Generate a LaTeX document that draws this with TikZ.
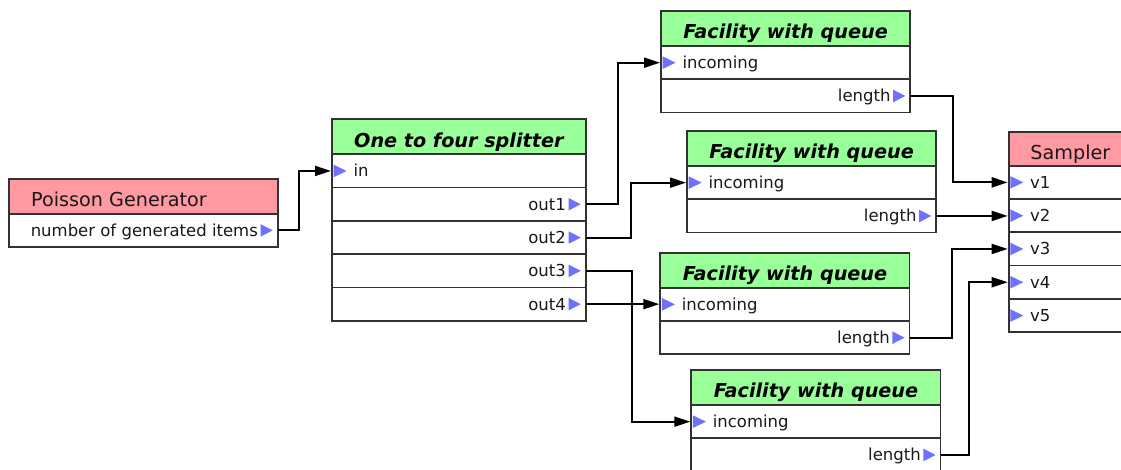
\documentclass[tikz,border=0pt]{standalone}
\usepackage{fontspec}
\setmainfont{DejaVu Sans}
\usetikzlibrary{arrows.meta}

\definecolor{edge}{RGB}{50,50,50}
\definecolor{pinkfill}{RGB}{255,153,162}
\definecolor{greenfill}{RGB}{153,255,153}
\definecolor{portblue}{RGB}{112,112,255}
\definecolor{ink}{RGB}{25,25,25}

\tikzset{
  pane/.style={draw=edge, line width=1.7pt, anchor=north west,
    inner sep=0pt, outer sep=0pt, minimum height=33.3pt},
  cell/.style={pane, fill=white},
  redhead/.style={pane, fill=pinkfill, minimum height=35pt},
  greenhead/.style={pane, fill=greenfill, minimum height=35pt},
  plaintitle/.style={font=\fontsize{19.2}{22}\selectfont, text=ink, inner sep=0pt, anchor=base west},
  boldtitle/.style={font=\fontsize{19.2}{22}\selectfont\bfseries\itshape, text=black, inner sep=0pt, anchor=base},
  porttext/.style={font=\fontsize{16.5}{19}\selectfont, text=ink, inner sep=0pt},
  conn/.style={line width=2pt, black, shorten >=1pt, -{Triangle[length=16pt,width=10pt]}},
}

% input row: port marker on the left edge, label after it
\newcommand\inrow[5]{%
  \node[cell, minimum width=#4pt] (#1) at (#2,#3) {};
  \fill[portblue] ([shift={(1.6,-6.3)}]#1.west) -- ([shift={(1.6,6.3)}]#1.west)
    -- ([shift={(14.6,0)}]#1.west) -- cycle;
  \node[porttext, anchor=base west] (#1-label) at ([shift={(21.3,22.6)}]#1.north west) {#5};
}
% output row: label and port marker against the right edge
\newcommand\outrow[5]{%
  \node[cell, minimum width=#4pt] (#1) at (#2,#3) {};
  \fill[portblue] ([shift={(-17.2,-6.3)}]#1.east) -- ([shift={(-17.2,6.3)}]#1.east)
    -- ([shift={(-5,0)}]#1.east) -- cycle;
  \node[porttext, anchor=base east] (#1-label) at ([shift={(-19.6,22.6)}]#1.north east) {#5};
}
% facility block: green header, one input, one output
\newcommand\facility[3]{%
  \node[greenhead, minimum width=249.3pt] (#1-h) at (#2,#3) {};
  \node[boldtitle] (#1-title) at ([yshift=-27.8pt]#1-h.north) {Facility with queue};
  \inrow{#1-1}{#2}{#3+35}{249.3}{incoming}
  \outrow{#1-2}{#2}{#3+68.3}{249.3}{length}
}

\begin{document}
\begin{tikzpicture}[x=1pt, y=-1pt]
  \useasboundingbox (0,0) rectangle (1121,469);
  \clip (0,0) rectangle (1121,469);
  \fill[white] (0,0) rectangle (1121,469);

  % source
  \node[redhead, minimum width=268.7pt, minimum height=34.7pt] (pg-h) at (9,179) {};
  \node[plaintitle] (pg-title) at ([shift={(22,27.2)}]pg-h.north west) {Poisson Generator};
  \outrow{pg-1}{9}{213.7}{268.7}{number of generated items}

  % splitter
  \node[greenhead, minimum width=253.7pt] (sp-h) at (332,119.3) {};
  \node[boldtitle] (sp-title) at ([yshift=-28pt]sp-h.north) {One to four splitter};
  \inrow{sp-1}{332}{154.3}{253.7}{in}
  \outrow{sp-2}{332}{187.6}{253.7}{out1}
  \outrow{sp-3}{332}{220.9}{253.7}{out2}
  \outrow{sp-4}{332}{254.2}{253.7}{out3}
  \outrow{sp-5}{332}{287.5}{253.7}{out4}

  % four facilities
  \facility{fa}{661}{11}
  \facility{fb}{687}{131}
  \facility{fc}{660.3}{252.7}
  \facility{fd}{691.3}{370}

  % sampler
  \node[redhead, minimum width=220pt, minimum height=34pt] (sa-h) at (1008.7,131.7) {};
  \node[plaintitle] (sa-title) at ([shift={(21.5,27.6)}]sa-h.north west) {Sampler};
  \inrow{sa-1}{1008.7}{165.7}{220}{v1}
  \inrow{sa-2}{1008.7}{199}{220}{v2}
  \inrow{sa-3}{1008.7}{232.3}{220}{v3}
  \inrow{sa-4}{1008.7}{265.6}{220}{v4}
  \inrow{sa-5}{1008.7}{298.9}{220}{v5}

  % connections
  \draw[conn] (pg-1.east) -- ++(21.5,0) |- (sp-1.west);
  \draw[conn] (sp-2.east) -- ++(32,0) |- (fa-1.west);
  \draw[conn] (sp-3.east) -- ++(45.3,0) |- (fb-1.west);
  \draw[conn] (sp-4.east) -- ++(46.6,0) |- (fd-1.west);
  \draw[conn] (sp-5.east) -- (sp-5.east -| fc-1.west);
  \draw[conn] (fa-2.east) -- ++(43,0) |- (sa-1.west);
  \draw[conn] (fb-2.east) -- (fb-2.east -| sa-2.west);
  \draw[conn] (fc-2.east) -- ++(42.6,0) |- (sa-3.west);
  \draw[conn] (fd-2.east) -- ++(28.3,0) |- (sa-4.west);
\end{tikzpicture}
\end{document}
